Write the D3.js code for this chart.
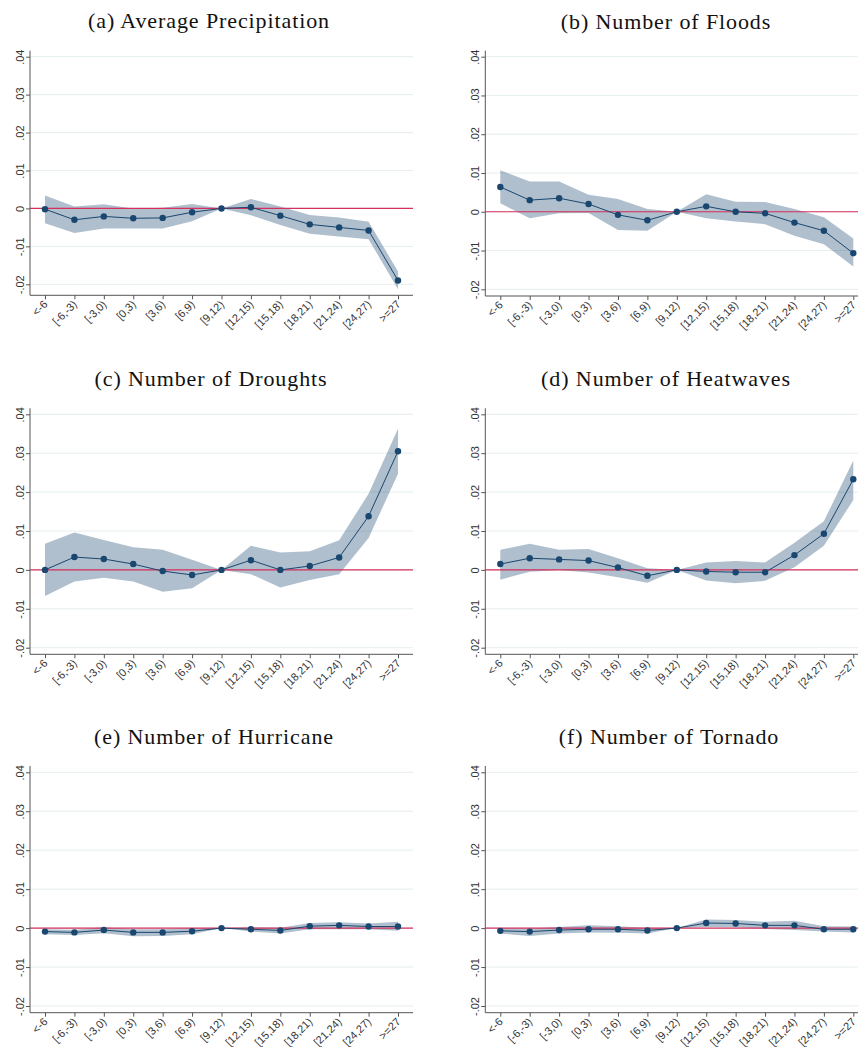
<!DOCTYPE html>
<html>
<head>
<meta charset="utf-8">
<script src="https://cdn.jsdelivr.net/npm/d3@7"></script>
<style>
body { margin: 0; background: #fff; }
.title { font-family: "Liberation Serif", serif; font-size: 22px; letter-spacing: 0.9px; fill: #111; }
.tick text { font-family: "Liberation Sans", Arial, sans-serif; font-size: 11px; fill: #333; }
</style>
</head>
<body>
<div id="chart"></div>
<script>
var w = 858;
var h = 1047;

var categories = ["<-6", "[-6,-3)", "[-3,0)", "[0,3)", "[3,6)", "[6,9)", "[9,12)",
	"[12,15)", "[15,18)", "[18,21)", "[21,24)", "[24,27)", ">=27"];
var yTicks = [-0.02, -0.01, 0, 0.01, 0.02, 0.03, 0.04];
var yTickLabels = ["-.02", "-.01", "0", ".01", ".02", ".03", ".04"];

var titles = ["(a) Average Precipitation", "(b) Number of Floods", "(c) Number of Droughts",
	"(d) Number of Heatwaves", "(e) Number of Hurricane", "(f) Number of Tornado"];

// (a) precipitation
var precipCoef = [-0.0002, -0.0030, -0.0021, -0.0026, -0.0025, -0.0010, 0, 0.0003, -0.0019, -0.0042, -0.0050, -0.0058, -0.0190];
var precipHi   = [0.0034, 0.0005, 0.0011, 0.0000, 0.0002, 0.0012, 0, 0.0025, 0.0005, -0.0017, -0.0024, -0.0035, -0.0166];
var precipLo   = [-0.0039, -0.0065, -0.0053, -0.0053, -0.0053, -0.0034, 0, -0.0018, -0.0044, -0.0067, -0.0074, -0.0081, -0.0213];
// (b) floods
var floodCoef = [0.0064, 0.0030, 0.0035, 0.0020, -0.0008, -0.0022, 0, 0.0014, 0.0000, -0.0004, -0.0028, -0.0049, -0.0107];
var floodHi   = [0.0107, 0.0078, 0.0078, 0.0044, 0.0033, 0.0007, 0, 0.0045, 0.0026, 0.0025, 0.0007, -0.0014, -0.0069];
var floodLo   = [0.0022, -0.0017, -0.0004, -0.0003, -0.0047, -0.0049, 0, -0.0017, -0.0025, -0.0032, -0.0062, -0.0084, -0.0141];
// (c) droughts
var droughtCoef = [0.0000, 0.0033, 0.0028, 0.0015, -0.0003, -0.0013, 0, 0.0025, 0.0000, 0.0010, 0.0032, 0.0138, 0.0305];
var droughtHi   = [0.0067, 0.0096, 0.0077, 0.0058, 0.0052, 0.0026, 0, 0.0062, 0.0045, 0.0048, 0.0076, 0.0196, 0.0363];
var droughtLo   = [-0.0067, -0.0030, -0.0020, -0.0030, -0.0056, -0.0047, 0, -0.0011, -0.0045, -0.0026, -0.0011, 0.0082, 0.0247];
// (d) heatwaves
var heatCoef = [0.0015, 0.0030, 0.0027, 0.0024, 0.0006, -0.0015, 0, -0.0004, -0.0006, -0.0006, 0.0038, 0.0093, 0.0233];
var heatHi   = [0.0052, 0.0067, 0.0052, 0.0054, 0.0030, 0.0004, 0, 0.0019, 0.0023, 0.0019, 0.0070, 0.0125, 0.0281];
var heatLo   = [-0.0025, -0.0005, 0.0000, -0.0007, -0.0019, -0.0033, 0, -0.0027, -0.0034, -0.0028, 0.0007, 0.0062, 0.0180];
// (e) hurricane
var hurrCoef = [-0.0009, -0.0011, -0.0005, -0.0011, -0.0011, -0.0008, 0, -0.0003, -0.0006, 0.0005, 0.0007, 0.0004, 0.0004];
var hurrHi   = [-0.0003, -0.0004, 0.0002, -0.0003, -0.0003, 0.0000, 0, 0.0002, 0.0001, 0.0013, 0.0015, 0.0012, 0.0016];
var hurrLo   = [-0.0016, -0.0018, -0.0013, -0.0021, -0.0020, -0.0016, 0, -0.0009, -0.0014, -0.0003, -0.0003, -0.0003, -0.0007];
// (f) tornado
var tornCoef = [-0.0007, -0.0009, -0.0005, -0.0003, -0.0003, -0.0006, 0, 0.0013, 0.0012, 0.0007, 0.0007, -0.0003, -0.0003];
var tornHi   = [0.0000, -0.0001, 0.0003, 0.0007, 0.0005, 0.0001, 0, 0.0022, 0.0021, 0.0016, 0.0019, 0.0005, 0.0004];
var tornLo   = [-0.0014, -0.0020, -0.0014, -0.0011, -0.0012, -0.0014, 0, 0.0003, 0.0002, -0.0002, -0.0005, -0.0009, -0.0011];

var series = [
	[precipCoef, precipLo, precipHi],
	[floodCoef, floodLo, floodHi],
	[droughtCoef, droughtLo, droughtHi],
	[heatCoef, heatLo, heatHi],
	[hurrCoef, hurrLo, hurrHi],
	[tornCoef, tornLo, tornHi]
];

// panel geometry (axis x, y of .04 and -.02 ticks, axis ends, title spot)
var layout = [
	{ax: 30, top: 50.7, y04: 56.7, ym02: 284.3, bottom: 295.3, tx: 209, ty: 28},
	{ax: 485.3, top: 50.7, y04: 56.7, ym02: 289.3, bottom: 296, tx: 666, ty: 29},
	{ax: 30, top: 408.3, y04: 414.3, ym02: 647.7, bottom: 654.3, tx: 211, ty: 386},
	{ax: 485.3, top: 408.3, y04: 414.3, ym02: 647.7, bottom: 654.3, tx: 666, ty: 386},
	{ax: 30, top: 766, y04: 772.3, ym02: 1006, bottom: 1012.7, tx: 214, ty: 744},
	{ax: 485.3, top: 766, y04: 772.3, ym02: 1006, bottom: 1012.7, tx: 669, ty: 744}
];

var navy = "#1a476f";

var svg = d3.select("#chart").append("svg")
	.attr("width", w)
	.attr("height", h);

svg.append("rect").attr("width", w).attr("height", h).attr("fill", "#fff");

layout.forEach(function(p, i) {
	drawPanel(p, series[i], titles[i]);
});

function drawPanel(p, s, title) {
	var coef = s[0], lo = s[1], hi = s[2];
	var right = p.ax + 383;

	var x = d3.scalePoint()
		.domain(categories)
		.range([p.ax + 15, p.ax + 368]);

	var y = d3.scaleLinear()
		.domain([-0.02, 0.04])
		.range([p.ym02, p.y04]);

	var g = svg.append("g");

	g.append("text")
		.attr("class", "title")
		.attr("x", p.tx)
		.attr("y", p.ty)
		.attr("text-anchor", "middle")
		.text(title);

	//gridlines
	g.selectAll("line.grid")
		.data(yTicks)
		.enter()
		.append("line")
		.attr("class", "grid")
		.attr("x1", p.ax)
		.attr("x2", right)
		.attr("y1", function(d) { return y(d); })
		.attr("y2", function(d) { return y(d); })
		.attr("stroke", "#e6eeee")
		.attr("stroke-width", 1);

	//confidence band
	var area = d3.area()
		.x(function(d, j) { return x(categories[j]); })
		.y0(function(d, j) { return y(lo[j]); })
		.y1(function(d, j) { return y(hi[j]); });

	g.append("path")
		.datum(coef)
		.attr("d", area)
		.attr("fill", navy)
		.attr("fill-opacity", 0.35);

	//zero line
	g.append("line")
		.attr("x1", p.ax)
		.attr("x2", right)
		.attr("y1", y(0))
		.attr("y2", y(0))
		.attr("stroke", "#d8305c")
		.attr("stroke-width", 1.2);

	var line = d3.line()
		.x(function(d, j) { return x(categories[j]); })
		.y(function(d) { return y(d); });

	g.append("path")
		.datum(coef)
		.attr("d", line)
		.attr("fill", "none")
		.attr("stroke", navy)
		.attr("stroke-width", 1);

	g.selectAll("circle")
		.data(coef)
		.enter()
		.append("circle")
		.attr("cx", function(d, j) { return x(categories[j]); })
		.attr("cy", function(d) { return y(d); })
		.attr("r", 3.2)
		.attr("fill", navy);

	//y axis
	var yAxis = d3.axisLeft(y)
		.tickValues(yTicks)
		.tickFormat(function(d, j) { return yTickLabels[j]; })
		.tickSize(4)
		.tickPadding(0);

	var yg = g.append("g")
		.attr("transform", "translate(" + p.ax + ",0)")
		.call(yAxis);
	yg.select(".domain").attr("d", "M0," + p.top + "V" + p.bottom).attr("stroke", "#555");
	yg.selectAll(".tick line").attr("stroke", "#555");
	yg.selectAll(".tick text")
		.attr("x", null).attr("dy", null)
		.attr("text-anchor", "middle")
		.attr("transform", "translate(-6,0) rotate(-90)");

	//x axis
	var xAxis = d3.axisBottom(x).tickSize(4).tickPadding(0);
	var xg = g.append("g")
		.attr("transform", "translate(0," + p.bottom + ")")
		.call(xAxis);
	xg.select(".domain").attr("d", "M" + p.ax + ",0H" + right).attr("stroke", "#555");
	xg.selectAll(".tick line").attr("stroke", "#555");
	xg.selectAll(".tick text")
		.attr("y", null).attr("dy", "0.35em")
		.attr("text-anchor", "end")
		.attr("transform", "translate(0,7) rotate(-45)");
}
</script>
</body>
</html>
